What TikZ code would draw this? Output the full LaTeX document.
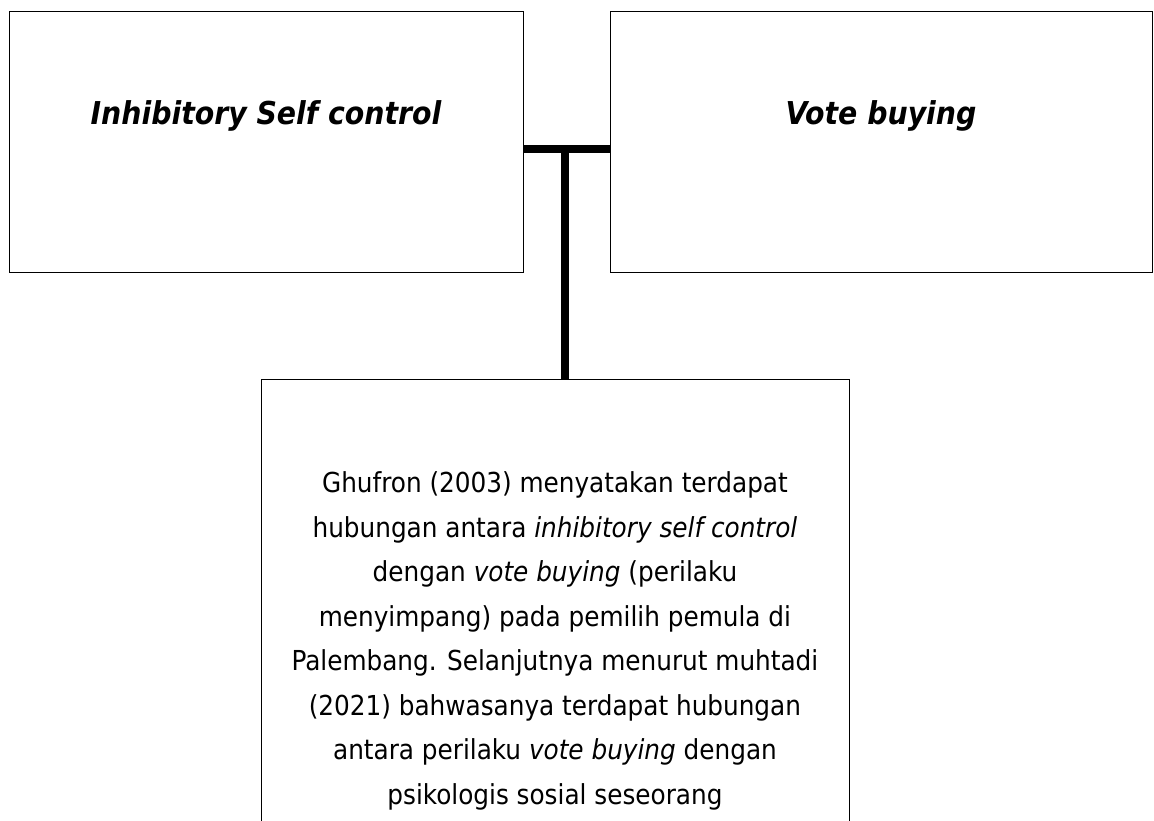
\documentclass[tikz,border=0pt]{standalone}
\usepackage{fontspec}
\setmainfont{DejaVu Sans Condensed}
\usepackage{tikz}
\usetikzlibrary{positioning}

\begin{document}
\begin{tikzpicture}[x=1pt, y=-1pt,
  box/.style={draw, line width=0.8pt, inner sep=0pt},
  title/.style={font=\fontsize{31.5}{36}\selectfont\bfseries\itshape},
  body/.style={font=\fontsize{27.5}{44.5}\selectfont, align=center},
  link/.style={line width=8pt}]
  \useasboundingbox (0,0) rectangle (1154,820);
  % boxes
  \draw[box] (9,11) rectangle (523,272);
  \draw[box] (610,11) rectangle (1152,272);
  \draw[box] (261,379) rectangle (849,900);
  \node[title] (ltext) at (266,116) {Inhibitory Self control};
  \node[title] (rtext) at (881,116) {Vote buying};
  \node[body] (btext) at (555,641) {Ghufron (2003) menyatakan terdapat\\
    hubungan antara \textit{inhibitory self control}\\
    dengan \textit{vote buying} (perilaku\\
    menyimpang) pada pemilih pemula di\\
    Palembang. Selanjutnya menurut muhtadi\\
    (2021) bahwasanya terdapat hubungan\\
    antara perilaku \textit{vote buying} dengan\\
    psikologis sosial seseorang};
  % connectors
  \coordinate (lend) at (523,149);
  \coordinate (rend) at (610,149);
  \coordinate (mid) at (565,149);
  \coordinate (bend) at (565,379);
  \draw[link] (lend) -- (rend);
  \draw[link] (mid) -- (bend);
\end{tikzpicture}
\end{document}
